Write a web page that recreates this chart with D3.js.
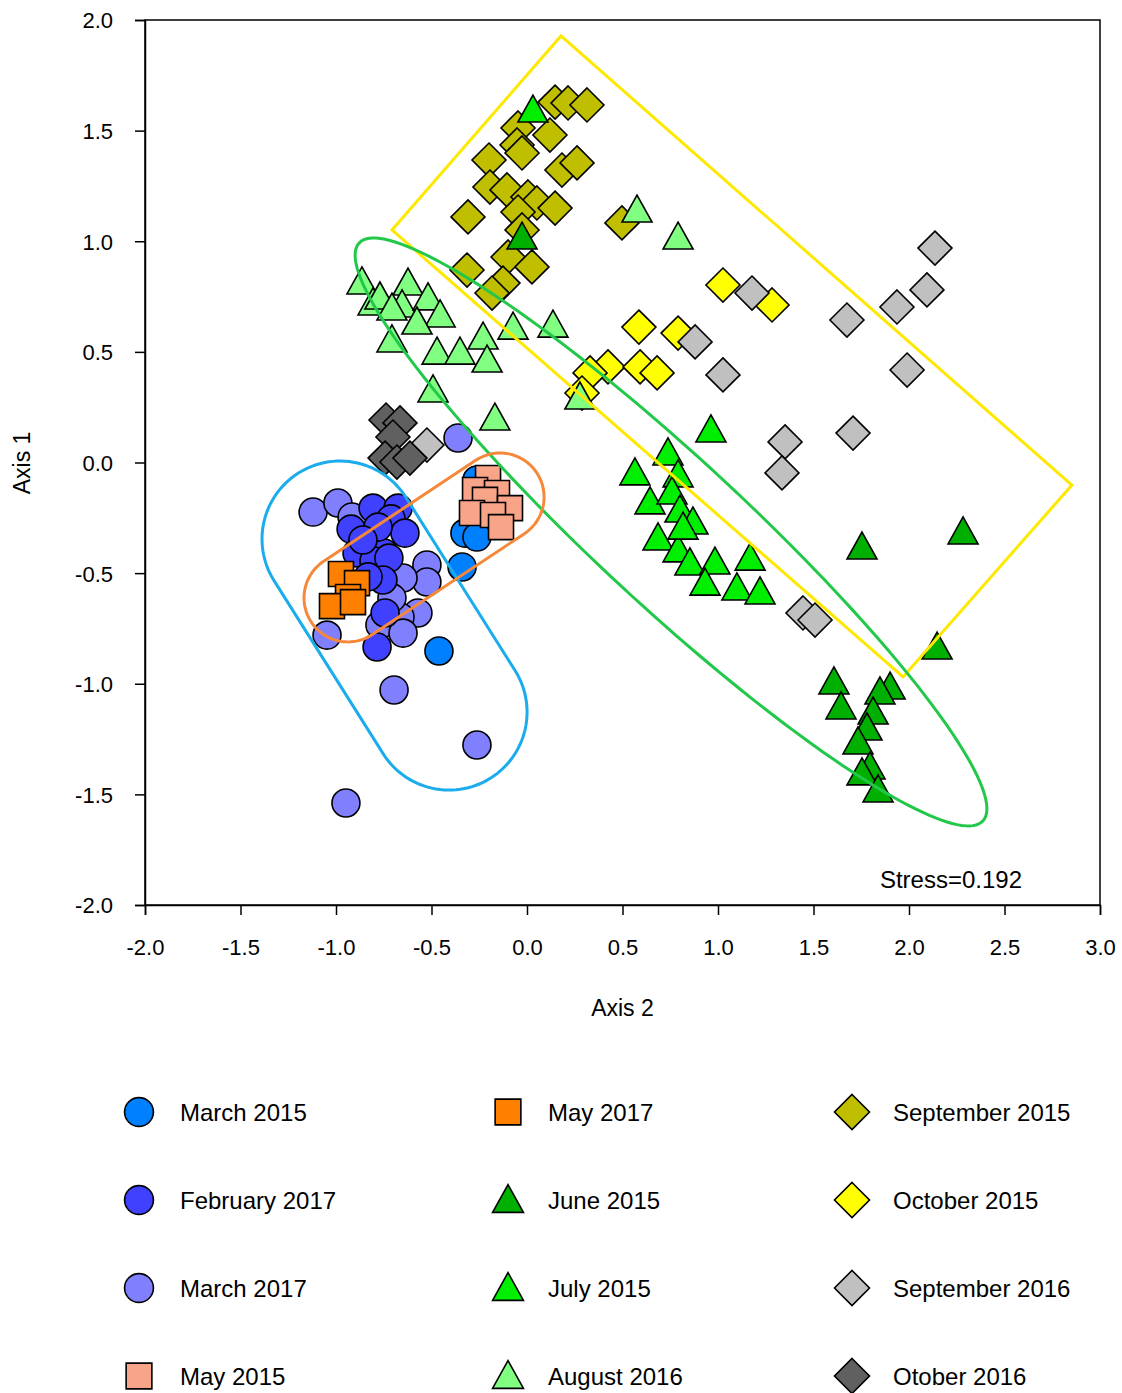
<!DOCTYPE html>
<html>
<head>
<meta charset="utf-8">
<script src="https://cdn.jsdelivr.net/npm/d3@7"></script>
<style>
  body { margin: 0; background: #fff; }
  svg text { font-family: Arial, "Liberation Sans", sans-serif; fill: #000; }
</style>
</head>
<body>
<div id="chart"></div>
<script>
// legend labels, in legend order (column by column)
const categories = ['March 2015', 'February 2017', 'March 2017', 'May 2015',
  'May 2017', 'June 2015', 'July 2015', 'August 2016',
  'September 2015', 'October 2015', 'September 2016', 'Otober 2016']

// NMDS scores [axis 2, axis 1]
const march2015 = [[-0.262, -0.079], [-0.325, -0.319], [-0.262, -0.337], [-0.340, -0.472], [-0.461, -0.852]]
const february2017 = [[-0.806, -0.206], [-0.675, -0.206], [-0.921, -0.301], [-0.712, -0.255], [-0.639, -0.319],
  [-0.749, -0.409], [-0.890, -0.409], [-0.801, -0.445], [-0.723, -0.432], [-0.754, -0.531], [-0.832, -0.517],
  [-0.743, -0.680], [-0.785, -0.834], [-0.780, -0.292], [-0.859, -0.350]]
const march2017 = [[-0.361, 0.111], [-1.120, -0.224], [-0.990, -0.183], [-0.916, -0.246], [-0.524, -0.463],
  [-0.524, -0.540], [-0.649, -0.522], [-0.571, -0.680], [-0.665, -0.698], [-0.770, -0.734], [-0.649, -0.771],
  [-1.047, -0.780], [-0.696, -1.028], [-0.262, -1.277], [-0.948, -1.539], [-0.707, -0.612]]
const may2015 = [[-0.204, -0.070], [-0.272, -0.124], [-0.157, -0.138], [-0.220, -0.169], [-0.089, -0.206],
  [-0.288, -0.228], [-0.178, -0.237], [-0.136, -0.292]]
const may2017 = [[-0.974, -0.504], [-0.890, -0.545], [-0.937, -0.608], [-1.021, -0.649], [-0.911, -0.631]]
const june2015 = [[-0.026, 1.019], [1.754, -0.382], [2.283, -0.314], [2.147, -0.834], [1.607, -0.992],
  [1.901, -1.015], [1.848, -1.037], [1.644, -1.105], [1.812, -1.128], [1.780, -1.200], [1.733, -1.263],
  [1.796, -1.376], [1.754, -1.403], [1.838, -1.480]]
const july2015 = [[0.031, 1.593], [0.963, 0.147], [0.738, 0.043], [0.565, -0.047], [0.791, -0.056],
  [0.644, -0.178], [0.759, -0.133], [0.801, -0.215], [0.869, -0.269], [0.686, -0.341], [0.791, -0.395],
  [0.853, -0.454], [0.984, -0.450], [1.168, -0.432], [0.932, -0.545], [1.099, -0.567], [1.220, -0.585],
  [0.817, -0.292]]
const august2016 = [[0.576, 1.141], [0.791, 1.019], [-0.864, 0.816], [-0.806, 0.721], [-0.770, 0.748],
  [-0.623, 0.811], [-0.654, 0.712], [-0.707, 0.698], [-0.518, 0.744], [-0.455, 0.667], [-0.576, 0.635],
  [-0.707, 0.554], [-0.471, 0.499], [-0.351, 0.499], [-0.230, 0.567], [-0.209, 0.463], [-0.073, 0.612],
  [0.136, 0.621], [-0.492, 0.328], [-0.168, 0.201], [0.277, 0.296]]
const september2015 = [[0.147, 1.629], [0.215, 1.625], [0.314, 1.616], [-0.047, 1.512], [0.120, 1.480],
  [-0.052, 1.435], [-0.026, 1.399], [-0.199, 1.367], [0.183, 1.322], [0.262, 1.354], [-0.194, 1.245],
  [-0.105, 1.232], [0.005, 1.200], [0.052, 1.173], [0.147, 1.150], [-0.309, 1.110], [-0.047, 1.132],
  [-0.026, 1.051], [-0.099, 0.929], [0.026, 0.884], [-0.314, 0.870], [-0.126, 0.811], [-0.183, 0.766],
  [0.497, 1.083]]
const october2015 = [[1.026, 0.802], [1.283, 0.712], [0.586, 0.612], [0.791, 0.585], [0.424, 0.432],
  [0.330, 0.405], [0.592, 0.432], [0.681, 0.405], [0.288, 0.314]]
const september2016 = [[-0.524, 0.079], [1.178, 0.766], [0.880, 0.545], [1.026, 0.396], [1.675, 0.644],
  [1.937, 0.703], [2.094, 0.780], [2.136, 0.969], [1.990, 0.418], [1.351, 0.093], [1.335, -0.047],
  [1.707, 0.133], [1.445, -0.680], [1.508, -0.712]]
const october2016 = [[-0.738, 0.192], [-0.665, 0.179], [-0.702, 0.115], [-0.743, 0.020], [-0.681, 0.002],
  [-0.613, 0.020]]

const xTicks = [-2.0, -1.5, -1.0, -0.5, 0.0, 0.5, 1.0, 1.5, 2.0, 2.5, 3.0]
const yTicks = [-2.0, -1.5, -1.0, -0.5, 0.0, 0.5, 1.0, 1.5, 2.0]
const stressText = 'Stress=0.192'

// group outlines (data coords)
const yellowBox = [[-0.707, 1.051], [0.178, 1.928], [2.853, -0.102], [1.969, -0.969]]
const greenEllipse = { center: [0.754, -0.314], major: [2.387, -1.620], minor: [1.016, -0.070] }
const blueHull = [[-0.979, -0.346], [-0.408, -1.128]]
const orangeHull = [[-0.141, -0.156], [-0.937, -0.612]]

const seriesData = {
  'March 2015': march2015, 'February 2017': february2017, 'March 2017': march2017,
  'May 2015': may2015, 'May 2017': may2017, 'June 2015': june2015, 'July 2015': july2015,
  'August 2016': august2016, 'September 2015': september2015, 'October 2015': october2015,
  'September 2016': september2016, 'Otober 2016': october2016,
}
const style = {
  'March 2015': ['circle', '#0080ff'], 'February 2017': ['circle', '#4040ff'],
  'March 2017': ['circle', '#8080ff'], 'May 2015': ['square', '#f8a488'],
  'May 2017': ['square', '#ff8000'], 'June 2015': ['triangle', '#00b000'],
  'July 2015': ['triangle', '#00ee00'], 'August 2016': ['triangle', '#80ff80'],
  'September 2015': ['diamond', '#bfbf00'], 'October 2015': ['diamond', '#ffff00'],
  'September 2016': ['diamond', '#c0c0c0'], 'Otober 2016': ['diamond', '#606060'],
}
const drawOrder = ['March 2017', 'February 2017', 'March 2015', 'May 2015', 'May 2017',
  'September 2015', 'October 2015', 'September 2016', 'Otober 2016',
  'June 2015', 'July 2015', 'August 2016']

const width = 1122
const height = 1393
const plotLeft = 145, plotRight = 1100, plotTop = 20, plotBottom = 905

const svg = d3.select('#chart').append('svg')
  .attr('width', width).attr('height', height)

const x = d3.scaleLinear().domain([-2, 3]).range([plotLeft, plotRight])
const y = d3.scaleLinear().domain([-2, 2]).range([plotBottom, plotTop])

function shapePath (shape, s) {
  if (shape === 'circle') {
    const r = 14 * s
    return `M${-r},0A${r},${r} 0 1,0 ${r},0A${r},${r} 0 1,0 ${-r},0Z`
  }
  if (shape === 'square') {
    const h = 12.5 * s
    return `M${-h},${-h}H${h}V${h}H${-h}Z`
  }
  if (shape === 'diamond') {
    const h = 17 * s
    return `M0,${-h}L${h},0L0,${h}L${-h},0Z`
  }
  // triangle
  return `M0,${-15 * s}L${15 * s},${12 * s}L${-15 * s},${12 * s}Z`
}

// frame
svg.append('rect')
  .attr('x', plotLeft).attr('y', plotTop)
  .attr('width', plotRight - plotLeft).attr('height', plotBottom - plotTop)
  .attr('fill', 'none').attr('stroke', '#000').attr('stroke-width', 1.5)

const fmt = d => d.toFixed(1)
const gx = svg.append('g').attr('transform', `translate(0,${plotBottom})`)
  .call(d3.axisBottom(x).tickValues(xTicks).tickFormat(fmt).tickSizeOuter(0).tickSize(10).tickPadding(24))
const gy = svg.append('g').attr('transform', `translate(${plotLeft},0)`)
  .call(d3.axisLeft(y).tickValues(yTicks).tickFormat(fmt).tickSizeOuter(0).tickSize(10).tickPadding(22))
for (const g of [gx, gy]) {
  g.select('.domain').attr('stroke-width', 1.5)
  g.selectAll('.tick line').attr('stroke-width', 1.5)
  g.selectAll('.tick text').attr('font-size', 22).attr('font-family', 'Arial, "Liberation Sans", sans-serif')
}
gy.selectAll('.tick text').attr('dy', '0.36em')

svg.append('text').attr('transform', 'translate(30,463) rotate(-90)')
  .attr('text-anchor', 'middle').attr('font-size', 23).text('Axis 1')
svg.append('text').attr('x', (plotLeft + plotRight) / 2).attr('y', 1016)
  .attr('text-anchor', 'middle').attr('font-size', 23).text('Axis 2')
svg.append('text').attr('x', 1022).attr('y', 888)
  .attr('text-anchor', 'end').attr('font-size', 24).text(stressText)

// points
const plot = svg.append('g')
drawOrder.forEach(name => {
  const [shape, color] = style[name]
  plot.append('g').selectAll('path').data(seriesData[name]).enter().append('path')
    .attr('transform', d => `translate(${x(d[0])},${y(d[1])})`)
    .attr('d', shapePath(shape, 1))
    .attr('fill', color).attr('stroke', '#000').attr('stroke-width', 1.6)
})

// outlines
const hulls = svg.append('g').attr('fill', 'none').attr('stroke-width', 3)

hulls.append('path')
  .attr('d', d3.line()(yellowBox.map(p => [x(p[0]), y(p[1])])) + 'Z')
  .attr('stroke', '#ffe800').attr('stroke-linejoin', 'miter')

function ellipsePoints (e) {
  const c = [x(e.center[0]), y(e.center[1])]
  const a = [x(e.major[0]) - c[0], y(e.major[1]) - c[1]]
  const b = [x(e.minor[0]) - c[0], y(e.minor[1]) - c[1]]
  return d3.range(0, 361, 2).map(deg => {
    const t = deg * Math.PI / 180
    return [c[0] + a[0] * Math.cos(t) + b[0] * Math.sin(t), c[1] + a[1] * Math.cos(t) + b[1] * Math.sin(t)]
  })
}
hulls.append('path')
  .attr('d', d3.line().curve(d3.curveLinearClosed)(ellipsePoints(greenEllipse)))
  .attr('stroke', '#22c84a')

function stadiumPoints (caps, r) {
  const c1 = [x(caps[0][0]), y(caps[0][1])]
  const c2 = [x(caps[1][0]), y(caps[1][1])]
  const phi = Math.atan2(c2[1] - c1[1], c2[0] - c1[0])
  const pts = []
  d3.range(-90, 91, 3).forEach(deg => {
    const t = phi + deg * Math.PI / 180
    pts.push([c2[0] + r * Math.cos(t), c2[1] + r * Math.sin(t)])
  })
  d3.range(90, 271, 3).forEach(deg => {
    const t = phi + deg * Math.PI / 180
    pts.push([c1[0] + r * Math.cos(t), c1[1] + r * Math.sin(t)])
  })
  return pts
}
hulls.append('path')
  .attr('d', d3.line().curve(d3.curveLinearClosed)(stadiumPoints(blueHull, 78)))
  .attr('stroke', '#1aacec')
hulls.append('path')
  .attr('d', d3.line().curve(d3.curveLinearClosed)(stadiumPoints(orangeHull, 44)))
  .attr('stroke', '#f5883a')

// legend
const colX = [[139, 180], [508, 548], [852, 893]]
const rowY = [1112, 1200, 1288, 1376]
const legend = svg.append('g')
categories.forEach((name, i) => {
  const col = Math.floor(i / 4)
  const row = i % 4
  const [shape, color] = style[name]
  const g = legend.append('g').attr('transform', `translate(0,${rowY[row]})`)
  g.append('path')
    .attr('transform', `translate(${colX[col][0]},0)`)
    .attr('d', shapePath(shape, 1.03))
    .attr('fill', color).attr('stroke', '#000').attr('stroke-width', 1.6)
  g.append('text').attr('x', colX[col][1]).attr('y', 9)
    .attr('font-size', 24).text(name)
})
</script>
</body>
</html>
